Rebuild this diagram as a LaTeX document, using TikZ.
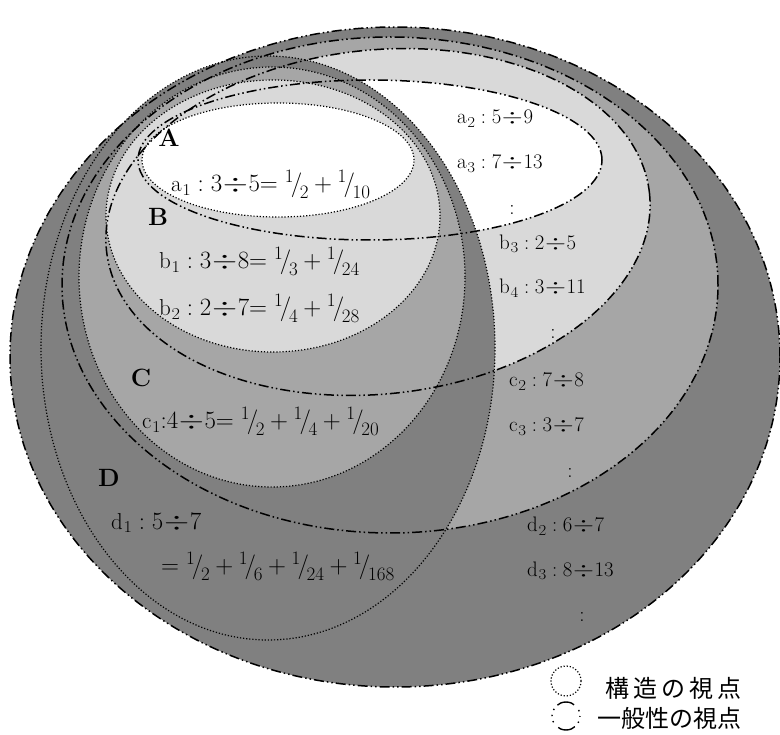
\documentclass[tikz,border=0pt]{standalone}
\usepackage{graphicx}
\usepackage{fontspec}
\newfontfamily\cjk{Noto Sans CJK JP}
\newcommand{\sfr}[2]{\mathord{\raisebox{0.4em}{\fontsize{19}{19}\selectfont #1}\kern-0.12em\Big/\kern-0.1em\raisebox{-0.3em}{\fontsize{19}{19}\selectfont #2}}}
\newcommand{\dv}{\mathord{\kern0.6pt\scalebox{1.3}[1.0]{$\div$}\kern0.6pt}}
\newcommand{\lb}[2]{\mathord{\mathrm{#1}\kern0.6pt\raisebox{-0.17em}{\scalebox{0.8}[0.72]{#2}}}}
\definecolor{dk}{gray}{0.5}
\definecolor{md}{gray}{0.65}
\definecolor{lt}{gray}{0.85}
\begin{document}
\begin{tikzpicture}[x=1pt,y=-1pt,
  dt/.style={line width=1.2pt, dash pattern=on 1.2pt off 1.9pt},
  dd/.style={line width=1.5pt, dash pattern=on 10pt off 3pt on 1.5pt off 3pt on 1.5pt off 3pt},
  lab/.style={font=\fontsize{23}{27}\selectfont, inner sep=0pt, anchor=west},
  gen/.style={font=\fontsize{21}{25}\selectfont, inner sep=0pt, anchor=west},
  big/.style={font=\fontsize{25}{29}\selectfont\bfseries, inner sep=0pt},
  vd/.style={font=\fontsize{21}{25}\selectfont, inner sep=0pt},
  leg/.style={font=\fontsize{24}{28}\selectfont\cjk, inner sep=0pt, anchor=east}]
\useasboundingbox (0,0) rectangle (780,735);
% fills: generality (dash-dot) ellipses
\fill[dk] (395,357) ellipse [x radius=385pt, y radius=330pt];
\fill[md] (390,285) ellipse [x radius=328pt, y radius=248pt];
\fill[lt] (378,222) ellipse [x radius=273pt, y radius=172pt, rotate=6];
\fill[white] (370,160) ellipse [x radius=232pt, y radius=80pt];
% fills: structure (dotted) ellipses
\fill[dk] (268,348) ellipse [x radius=227pt, y radius=292pt];
\fill[md] (272,277) ellipse [x radius=193pt, y radius=210pt];
\fill[lt] (273,216) ellipse [x radius=167pt, y radius=136pt];
\fill[white] (278,160) ellipse [x radius=136pt, y radius=57pt];
% outlines
\draw[dd] (395,357) ellipse [x radius=385pt, y radius=330pt];
\draw[dd] (390,285) ellipse [x radius=328pt, y radius=248pt];
\draw[dd] (378,222) ellipse [x radius=273pt, y radius=172pt, rotate=6];
\draw[dd] (370,160) ellipse [x radius=232pt, y radius=80pt];
\draw[dt] (268,348) ellipse [x radius=227pt, y radius=292pt];
\draw[dt] (272,277) ellipse [x radius=193pt, y radius=210pt];
\draw[dt] (273,216) ellipse [x radius=167pt, y radius=136pt];
\draw[dt] (278,160) ellipse [x radius=136pt, y radius=57pt];
% set labels
\node[big] (A) at (169,138) {A};
\node[big] (B) at (158,217) {B};
\node[big] (C) at (141,378) {C};
\node[big] (D) at (109,478) {D};
% structure texts
\node[lab] (a1) at (171,184) {$\lb{a}{1} : 3\dv5{=}\;\sfr12+\sfr1{10}$};
\node[lab] (b1) at (159,261) {$\lb{b}{1} : 3\dv8{=}\;\sfr13+\sfr1{24}$};
\node[lab] (b2) at (159,308) {$\lb{b}{2} : 2\dv7{=}\;\sfr14+\sfr1{28}$};
\node[lab] (c1) at (142,421) {$\lb{c}{1}{:}4\dv5{=}\;\sfr12+\sfr14+\sfr1{20}$};
\node[lab] (d1) at (111,523) {$\lb{d}{1} : 5\dv7$};
\node[lab] (d1b) at (161,566) {$=\sfr12+\sfr16+\sfr1{24}+\sfr1{168}$};
% generality texts
\node[gen] (a2) at (457,119) {$\lb{a}{2} : 5\dv9$};
\node[gen] (a3) at (457,164) {$\lb{a}{3} : 7\dv13$};
\node[vd] (va) at (512,210) {:};
\node[gen] (b3) at (499,244) {$\lb{b}{3} : 2\dv5$};
\node[gen] (b4) at (499,288) {$\lb{b}{4} : 3\dv11$};
\node[vd] (vb) at (553,334) {:};
\node[gen] (c2) at (509,382) {$\lb{c}{2} : 7\dv8$};
\node[gen] (c3) at (509,427) {$\lb{c}{3} : 3\dv7$};
\node[vd] (vc) at (570,473) {:};
\node[gen] (d2) at (527,526) {$\lb{d}{2} : 6\dv7$};
\node[gen] (d3) at (527,571) {$\lb{d}{3} : 8\dv13$};
\node[vd] (vdd) at (582,617) {:};
% legend
\draw[dt] (566,681) circle [radius=15pt];
\draw[line width=1.4pt, dash pattern=on 18pt off 5pt on 1.4pt off 5pt on 1.4pt off 5pt on 1.4pt off 7pt, dash phase=31pt] (566,716) circle [radius=14pt];
\node[leg] (l1) at (742,688) {構\,造\,の\,視\,点};
\node[leg] (l2) at (742,718) {一般性の視点};
\end{tikzpicture}
\end{document}
